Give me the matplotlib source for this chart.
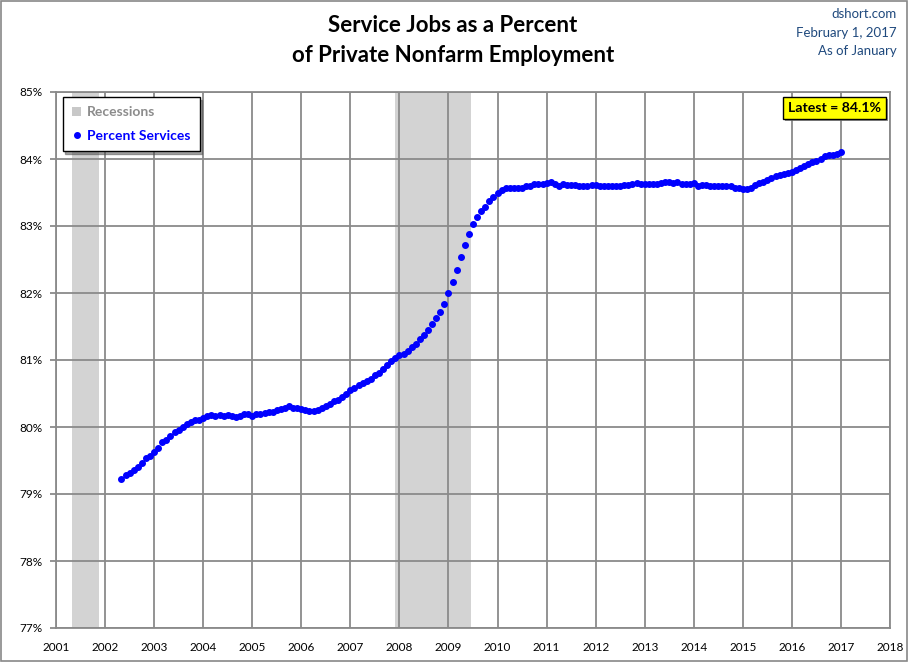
import numpy as np
import pandas as pd
import matplotlib
matplotlib.use("Agg")
import matplotlib.pyplot as plt
import matplotlib.patheffects as pe
from matplotlib.patches import Patch, Rectangle
from matplotlib.lines import Line2D

plt.rcParams['font.family'] = ['Lato', 'DejaVu Sans']

# monthly, May 2002 .. Jan 2017
start_month = '2002-05'
end_month = '2017-01'
pct_services = [
    79.23, 79.28, 79.31, 79.36, 79.41, 79.47, 79.53, 79.57,                 # 2002
    79.62, 79.69, 79.77, 79.81, 79.86, 79.92, 79.95, 80.00, 80.04, 80.08, 80.11, 80.11,  # 2003
    80.13, 80.16, 80.18, 80.16, 80.18, 80.17, 80.18, 80.16, 80.15, 80.17, 80.19, 80.19,  # 2004
    80.17, 80.20, 80.20, 80.21, 80.22, 80.23, 80.26, 80.27, 80.28, 80.31, 80.29, 80.28,  # 2005
    80.27, 80.25, 80.24, 80.24, 80.26, 80.29, 80.31, 80.35, 80.39, 80.41, 80.45, 80.50,  # 2006
    80.55, 80.58, 80.62, 80.65, 80.68, 80.72, 80.77, 80.81, 80.86, 80.92, 80.98, 81.03,  # 2007
    81.07, 81.09, 81.13, 81.19, 81.24, 81.32, 81.38, 81.45, 81.53, 81.62, 81.71, 81.83,  # 2008
    82.00, 82.17, 82.35, 82.53, 82.72, 82.88, 83.03, 83.13, 83.23, 83.29, 83.38, 83.44,  # 2009
    83.49, 83.54, 83.56, 83.56, 83.56, 83.56, 83.56, 83.60, 83.60, 83.62, 83.62, 83.62,  # 2010
    83.64, 83.65, 83.62, 83.60, 83.62, 83.61, 83.61, 83.61, 83.60, 83.60, 83.60, 83.61,  # 2011
    83.61, 83.60, 83.60, 83.60, 83.60, 83.60, 83.60, 83.61, 83.61, 83.62, 83.64, 83.63,  # 2012
    83.62, 83.62, 83.62, 83.62, 83.64, 83.66, 83.65, 83.64, 83.65, 83.63, 83.63, 83.63,  # 2013
    83.64, 83.60, 83.61, 83.61, 83.59, 83.59, 83.60, 83.59, 83.60, 83.59, 83.57, 83.56,  # 2014
    83.55, 83.55, 83.57, 83.61, 83.64, 83.66, 83.69, 83.71, 83.74, 83.76, 83.78, 83.79,  # 2015
    83.81, 83.84, 83.87, 83.90, 83.92, 83.95, 83.97, 84.00, 84.05, 84.06, 84.06, 84.08,  # 2016
    84.11,                                                                  # 2017
]

# recessions (decimal years)
recessions = [(2001.33, 2001.88), (2007.92, 2009.45)]

year_ticks = list(range(2001, 2019))
pct_ticks = list(range(77, 86))

dates = pd.date_range(start_month, end_month, freq='MS')
x = dates.year + (dates.month - 1) / 12.0

fig = plt.figure(figsize=(9.08, 6.62), dpi=100)
ax = fig.add_axes([56/908, 34/662, 834/908, 536/662])

grid_col = '#8a8a8a'
for a, b in recessions:
    ax.axvspan(a, b, color='#d3d3d3', lw=0, zorder=0.2)

ax.plot(x, pct_services, 'o', color='#0000ff', ms=4.0, mec='#0000ff', zorder=3)

ax.set_xlim(2001, 2018)
ax.set_ylim(77, 85)
ax.set_xticks(year_ticks)
ax.set_yticks(pct_ticks)
ax.set_yticklabels([f'{t}%' for t in pct_ticks])
ax.set_axisbelow(True)
ax.grid(True, color=grid_col, lw=1.3)
for s in ax.spines.values():
    s.set_color(grid_col)
    s.set_linewidth(1.3)
ax.tick_params(axis='y', length=4, color=grid_col, width=1.3, pad=6, labelsize=8.5)
ax.tick_params(axis='x', length=0, pad=10, labelsize=8.5)

# legend
handles = [Patch(facecolor='#c8c8c8', edgecolor='none', label='Recessions'),
           Line2D([], [], ls='none', marker='o', color='#0000ff', ms=4.0, label='Percent Services')]
leg = ax.legend(handles=handles, loc='upper left', bbox_to_anchor=(0.008, 0.99),
                borderaxespad=0, frameon=True, fancybox=False, shadow=True,
                prop={'weight': 'bold', 'size': 10}, handlelength=0.7,
                handletextpad=0.4, labelspacing=0.85, borderpad=0.65)
leg.get_frame().set_edgecolor('black')
leg.get_frame().set_linewidth(1.0)
leg.get_texts()[0].set_color('#8c8c8c')
leg.get_texts()[1].set_color('#0000ff')

# latest label
lt = ax.text(0.933, 0.971, f'Latest = {pct_services[-1]:.1f}%', transform=ax.transAxes,
             ha='center', va='center', fontsize=10.2, fontweight='bold', zorder=5,
             bbox=dict(boxstyle='square,pad=0.35', fc='#ffff00', ec='black', lw=1.0))
lt.get_bbox_patch().set_path_effects([pe.withSimplePatchShadow(offset=(2, -2), shadow_rgbFace='#777777', alpha=0.8)])

# titles
fig.text(453/908, 1 - 25/662, 'Service Jobs as a Percent', ha='center', va='center',
         fontsize=16, fontweight='bold')
fig.text(453/908, 1 - 55/662, 'of Private Nonfarm Employment', ha='center', va='center',
         fontsize=16, fontweight='bold')
src_col = '#1f497d'
for yy, s in [(14, 'dshort.com'), (33, 'February 1, 2017'), (51, 'As of January')]:
    fig.text(897/908, 1 - yy/662, s, ha='right', va='center', fontsize=9.5,
             color=src_col)

fig.patches.append(Rectangle((0.001, 0.001), 0.998, 0.998, transform=fig.transFigure,
                             fill=False, ec='#888888', lw=1.2))

fig.savefig('out.png', dpi=100)
